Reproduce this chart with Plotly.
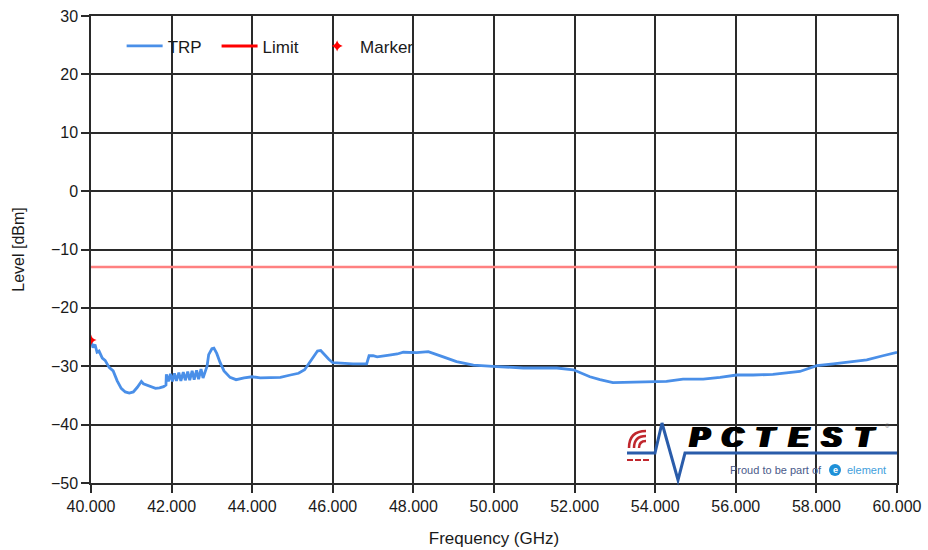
import plotly.graph_objects as go

# ---------------- data ----------------
freq_ghz = [
    40.00, 40.05, 40.10, 40.15, 40.20, 40.28, 40.35, 40.45, 40.55, 40.65,
    40.75, 40.85, 40.95, 41.05, 41.15, 41.25, 41.30, 41.40, 41.50, 41.60,
    41.70, 41.80, 41.86,
    41.87, 41.92, 41.97, 42.02, 42.07, 42.12, 42.18, 42.23, 42.29, 42.34,
    42.40, 42.45, 42.51, 42.56, 42.62, 42.67, 42.73, 42.78, 42.85,
    42.88, 42.92, 43.00, 43.05, 43.12, 43.20, 43.30, 43.45, 43.60, 43.80,
    44.00, 44.20, 44.40, 44.70, 44.95, 45.15, 45.30, 45.40, 45.50, 45.62,
    45.70, 45.80, 45.90, 46.00, 46.20, 46.50, 46.84, 46.90, 47.00, 47.10,
    47.40, 47.60, 47.75, 48.08, 48.37, 48.55, 48.74, 49.07, 49.49, 50.07,
    50.73, 51.56, 51.97, 52.38, 52.63, 52.95, 53.37, 53.87, 54.28, 54.69,
    55.19, 55.61, 56.02, 56.43, 56.92, 57.59, 58.01, 58.42, 58.83, 59.25,
    59.65, 60.00,
]
trp_dbm = [
    -25.6, -26.8, -26.3, -27.6, -27.4, -28.6, -29.0, -30.2, -30.8, -32.5,
    -33.8, -34.4, -34.6, -34.4, -33.6, -32.6, -33.0, -33.3, -33.6, -33.8,
    -33.7, -33.5, -33.2,
    -31.4, -32.6, -31.3, -32.6, -31.2, -32.5, -31.1, -32.5, -31.0, -32.4,
    -30.9, -32.4, -30.8, -32.3, -30.7, -32.2, -30.5, -32.0, -30.3,
    -30.0, -28.0, -27.0, -26.9, -27.8, -29.3, -30.8, -31.9, -32.3, -32.0,
    -31.8, -32.0, -32.0, -31.9, -31.5, -31.2, -30.6, -29.6, -28.4, -27.4,
    -27.3, -28.1, -28.8, -29.4, -29.5, -29.6, -29.6, -28.2, -28.2, -28.4,
    -28.1, -27.9, -27.6, -27.65, -27.5, -27.9, -28.4, -29.2, -29.8, -30.05,
    -30.3, -30.3, -30.6, -31.8, -32.3, -32.8, -32.7, -32.6, -32.6, -32.2,
    -32.2, -31.9, -31.5, -31.5, -31.4, -30.9, -29.9, -29.6, -29.2, -28.9,
    -28.2, -27.6,
]
limit_freq = [40.0, 60.0]
limit_dbm = [-13.0, -13.0]
marker_freq = [40.0]
marker_dbm = [-25.5]

x_ticks = [40, 42, 44, 46, 48, 50, 52, 54, 56, 58, 60]
y_ticks = [-50, -40, -30, -20, -10, 0, 10, 20, 30]

# ---------------- figure ----------------
FONT = "Liberation Sans, Arial, sans-serif"
TXT = "#1a1a1a"

fig = go.Figure()
fig.add_trace(go.Scatter(
    x=freq_ghz, y=trp_dbm, mode="lines", name="TRP", legend="legend",
    line=dict(color="#4a8fe8", width=2.8),
))
fig.add_trace(go.Scatter(
    x=limit_freq, y=limit_dbm, mode="lines", name="Limit", showlegend=False,
    line=dict(color="#ff8080", width=2.4),
))
fig.add_trace(go.Scatter(
    x=[None], y=[None], mode="lines", name="Limit", legend="legend2",
    line=dict(color="#ff0000", width=3),
))
fig.add_trace(go.Scatter(
    x=marker_freq, y=marker_dbm, mode="markers", name="Marker", legend="legend3",
    marker=dict(symbol="star-diamond", color="#ff0000", size=8),
))

# ---- logo (decoration) ----
L, R, T, B = 91, 897, 16, 483
def px(x):
    return (x - L) / (R - L)
def py(y):
    return (B - y) / (B - T)

shapes = []
blue_pts = [(627, 453), (655, 453), (662, 423), (678, 480), (685, 453), (897, 453)]
path = "M " + " L ".join(f"{px(a):.5f},{py(b):.5f}" for a, b in blue_pts)
shapes.append(dict(type="path", xref="paper", yref="paper", path=path,
                   line=dict(color="#2a5caa", width=3)))
for x0 in (627, 635, 643):
    shapes.append(dict(type="line", xref="paper", yref="paper",
                       x0=px(x0), x1=px(x0 + 6), y0=py(460), y1=py(460),
                       line=dict(color="#c0272d", width=2)))
cx, cy = 646, 448
for r in (17, 12, 7):
    p = (f"M {px(cx - r):.5f},{py(cy):.5f} Q {px(cx - r):.5f},{py(cy - r):.5f} "
         f"{px(cx):.5f},{py(cy - r):.5f}")
    shapes.append(dict(type="path", xref="paper", yref="paper", path=p,
                       line=dict(color="#c0272d", width=2.5)))
shapes.append(dict(type="circle", xref="paper", yref="paper",
                   x0=px(829), x1=px(841), y0=py(476), y1=py(464),
                   fillcolor="#1e90d8", line=dict(width=0)))

def ann(x, y, text, size, color, **kw):
    d = dict(x=px(x), y=py(y), xref="paper", yref="paper", text=text,
             showarrow=False, xanchor="center", yanchor="middle",
             font=dict(family=FONT, size=size, color=color, **kw))
    return d

annotations = []
shadow = "1px 0 0 #000, 2px 0 0 #000, 3px 0 0 #000, 4px 0 0 #000"
for ch, cxl in zip("PCTEST", [698, 731, 764, 797, 830, 863]):
    annotations.append(ann(cxl, 437, f"<b><i>{ch}</i></b>", 29, "#000000", shadow=shadow))
annotations.append(ann(887, 426, "®", 6, "#666666"))
annotations.append(ann(776, 470, "Proud to be part of", 11, "#4a5a8a"))
annotations.append(ann(866, 470, "element", 11, "#3fa0dc"))
annotations.append(ann(835, 469.5, "<b>e</b>", 9, "#ffffff"))

axis_common = dict(
    showgrid=True, gridcolor="#2a2a2a", gridwidth=1.5,
    showline=True, linecolor="#2a2a2a", linewidth=1.5, mirror=True,
    ticks="outside", tickcolor="#2a2a2a", ticklen=8, tickwidth=1.5,
    zeroline=False, automargin=False,
    tickfont=dict(family=FONT, size=16, color=TXT),
)

def leg(x):
    return dict(orientation="h", x=x, y=0.935, xanchor="left", yanchor="middle",
                bgcolor="rgba(0,0,0,0)", font=dict(family=FONT, size=17, color=TXT),
                itemwidth=36)

fig.update_layout(
    width=928, height=550,
    margin=dict(l=91, r=31, t=16, b=67),
    paper_bgcolor="white", plot_bgcolor="white",
    font=dict(family=FONT, size=16, color=TXT),
    shapes=shapes, annotations=annotations,
    legend=leg(0.038), legend2=leg(0.1558), legend3=leg(0.2768),
    xaxis=dict(range=[40, 60], tickvals=x_ticks,
               ticktext=[f"{v:.3f}" for v in x_ticks],
               title=dict(text="Frequency (GHz)", standoff=18,
                          font=dict(family=FONT, size=17, color=TXT)),
               **axis_common),
    yaxis=dict(range=[-50, 30], tickvals=y_ticks,
               title=dict(text="Level [dBm]", standoff=22,
                          font=dict(family=FONT, size=16, color=TXT)),
               **axis_common),
)

fig.write_html("out.html", post_script="document.body.style.margin='0px';",
               config={"displayModeBar": False})
